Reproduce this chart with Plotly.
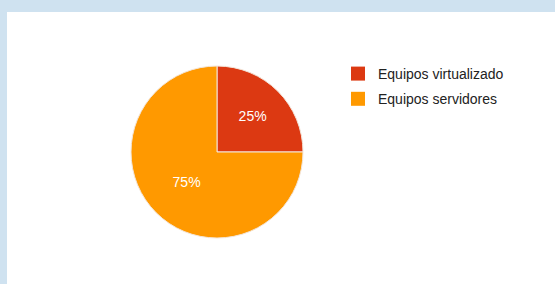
import plotly.graph_objects as go

labels = ["Equipos virtualizado", "Equipos servidores"]
values = [25, 75]
colors = ["#dc3912", "#ff9900"]

W, H = 555, 284
FONT = "Liberation Sans, Arial, sans-serif"

fig = go.Figure()
fig.add_trace(go.Pie(
    labels=labels,
    values=values,
    sort=False,
    direction="clockwise",
    rotation=0,
    marker=dict(colors=colors, line=dict(color="#f3e6da", width=1)),
    textinfo="percent",
    textposition="inside",
    insidetextfont=dict(color="white", size=14, family=FONT),
    insidetextorientation="horizontal",
    hoverinfo="label+percent",
    showlegend=False,
    domain=dict(x=[131 / W, 303 / W], y=[1 - 238 / H, 1 - 66 / H]),
))

# legend entries (one per slice, same labels/colours)
for i, (lab, col) in enumerate(zip(labels, colors)):
    fig.add_trace(go.Scatter(
        x=[None], y=[None], mode="markers", name=lab,
        marker=dict(symbol="square", size=14, color=col, line=dict(width=0)),
        legendgroup=f"g{i}", showlegend=True, hoverinfo="skip",
    ))

fig.add_shape(type="rect", xref="paper", yref="paper",
              x0=7 / W, x1=1.01, y0=-0.01, y1=1 - 12 / H,
              fillcolor="white", line=dict(width=0), layer="below")

fig.update_layout(
    width=W, height=H,
    margin=dict(l=0, r=0, t=0, b=0),
    paper_bgcolor="#cfe2f0",
    plot_bgcolor="rgba(0,0,0,0)",
    font=dict(family=FONT, size=14, color="#222222"),
    xaxis=dict(visible=False),
    yaxis=dict(visible=False),
    showlegend=True,
    legend=dict(x=338 / W, y=1 - 58 / H, xanchor="left", yanchor="top",
                bgcolor="rgba(0,0,0,0)", font=dict(size=14, color="#222222"),
                traceorder="grouped", tracegroupgap=4),
)

fig.write_html("out.html", config={"displayModeBar": False},
               post_script="document.body.style.margin='0';")
